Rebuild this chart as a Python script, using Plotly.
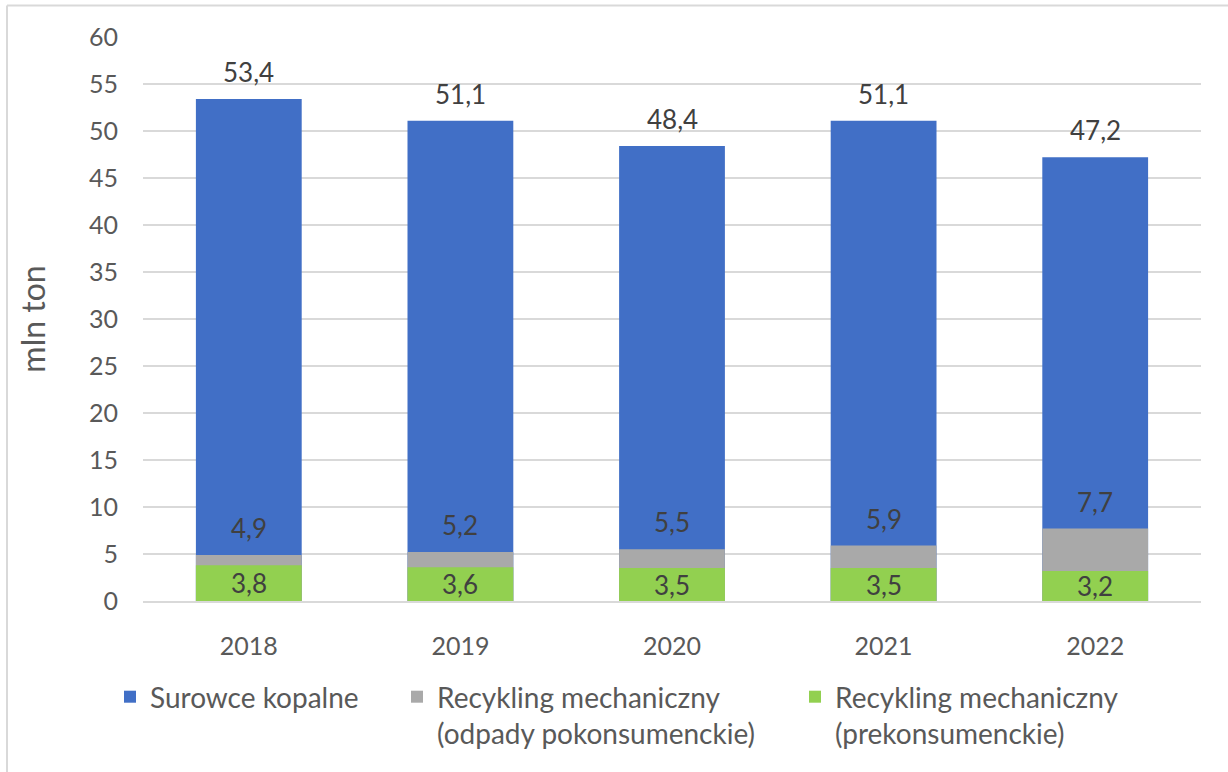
import plotly.graph_objects as go

# Zużycie surowców w produkcji tworzyw (mln ton)
years = ["2018", "2019", "2020", "2021", "2022"]
surowce_kopalne = [53.4, 51.1, 48.4, 51.1, 47.2]
recykling_pokonsumenckie = [4.9, 5.2, 5.5, 5.9, 7.7]
recykling_prekonsumenckie = [3.8, 3.6, 3.5, 3.5, 3.2]
y_ticks = [0, 5, 10, 15, 20, 25, 30, 35, 40, 45, 50, 55, 60]

names = [
    "Surowce kopalne",
    "Recykling mechaniczny<br>(odpady pokonsumenckie)",
    "Recykling mechaniczny<br>(prekonsumenckie)",
]
colors = ["#416FC6", "#A9A9A9", "#92D050"]

FONT = "Lato"
TICK_COLOR = "#595959"
LABEL_COLOR = "#404040"
TICK_FS = 25
LABEL_FS = 26
LEGEND_FS = 28
TITLE_FS = 32

fig = go.Figure()
series = [surowce_kopalne, recykling_pokonsumenckie, recykling_prekonsumenckie]
legends = ["legend", "legend2", "legend3"]
for vals, name, col, lg in zip(series, names, colors, legends):
    fig.add_trace(go.Bar(
        x=years, y=vals, name=name, legend=lg, showlegend=True,
        marker=dict(color=col, line=dict(width=0)),
        width=0.5,
    ))

def fmt(v):
    return f"{v:.1f}".replace(".", ",")

# annotations are placed by category index (numeric-looking year strings
# would otherwise be read as numbers on the category axis)
annotations = []
# labels above the fossil and post-consumer bars
for vals in (surowce_kopalne, recykling_pokonsumenckie):
    for i, v in enumerate(vals):
        annotations.append(dict(
            x=i, y=v, text=fmt(v), showarrow=False, yanchor="middle",
            yshift=27, font=dict(family=FONT, size=LABEL_FS, color=LABEL_COLOR),
        ))
# labels centred inside the pre-consumer bars
for i, v in enumerate(recykling_prekonsumenckie):
    annotations.append(dict(
        x=i, y=v / 2, text=fmt(v), showarrow=False, yanchor="middle",
        font=dict(family=FONT, size=LABEL_FS, color=LABEL_COLOR),
    ))

# plot area in pixels
L, R, T, B = 143, 27, 37, 171
W, H = 1228, 772
pw, ph = W - L - R, H - T - B

def px_x(p):
    return (p - L) / pw

def px_y(p):
    return (H - B - p) / ph

# chart frame (left and top edges)
frame = dict(color="#D9D9D9", width=2)
shapes = [
    dict(type="line", xref="paper", yref="paper",
         x0=px_x(7), x1=px_x(7), y0=px_y(5.5), y1=px_y(772), line=frame),
    dict(type="line", xref="paper", yref="paper",
         x0=px_x(7), x1=px_x(1228), y0=px_y(5.5), y1=px_y(5.5), line=frame),
]

legend_font = dict(family=FONT, size=LEGEND_FS, color=TICK_COLOR)
legend_common = dict(orientation="h", yanchor="top", xanchor="left",
                     font=legend_font, bgcolor="rgba(0,0,0,0)", valign="top",
                     itemwidth=30)

fig.update_layout(
    width=W, height=H,
    margin=dict(l=L, r=R, t=T, b=B, pad=0),
    barmode="overlay",
    showlegend=True,
    plot_bgcolor="white", paper_bgcolor="white",
    separators=", ",
    font=dict(family=FONT, size=TICK_FS, color=TICK_COLOR),
    annotations=annotations,
    shapes=shapes,
    legend=dict(x=px_x(110), y=px_y(672), **legend_common),
    legend2=dict(x=px_x(397), y=px_y(672), **legend_common),
    legend3=dict(x=px_x(795), y=px_y(672), **legend_common),
    xaxis=dict(
        type="category", range=[-0.5, len(years) - 0.5],
        showgrid=False, showline=True, linecolor="#D9D9D9", linewidth=2,
        ticks="", ticklabelstandoff=22,
        tickfont=dict(family=FONT, size=TICK_FS, color=TICK_COLOR),
    ),
    yaxis=dict(
        range=[0, 60], tickvals=y_ticks, showgrid=True,
        gridcolor="#D9D9D9", gridwidth=1.5, zeroline=False,
        showline=False, ticks="", ticklabelstandoff=24,
        tickfont=dict(family=FONT, size=TICK_FS, color=TICK_COLOR),
        title=dict(text="mln ton", standoff=33,
                   font=dict(family=FONT, size=TITLE_FS, color=TICK_COLOR)),
    ),
)

fig.write_html("out.html")
